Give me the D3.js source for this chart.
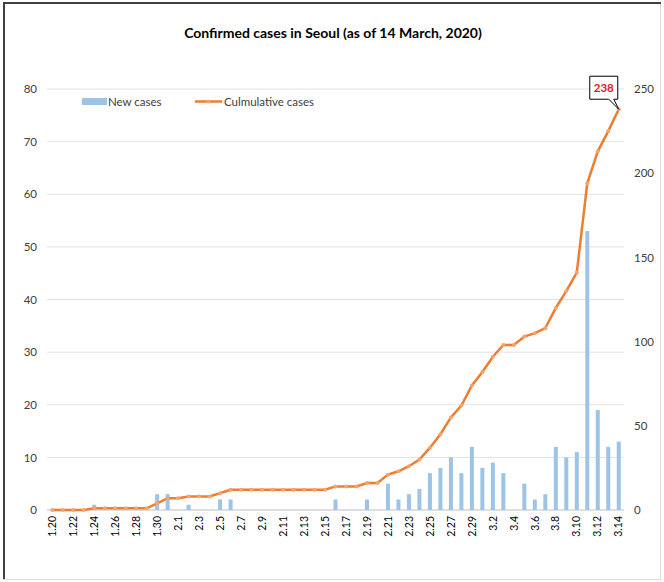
<!DOCTYPE html>
<html lang="en">
<head>
  <meta charset="utf-8">
  <title>Confirmed cases in Seoul</title>
  <script src="https://d3js.org/d3.v7.min.js"></script>
  <style>
    body { margin: 0; background: #fff; }
    text { font-family: Lato, "Open Sans", sans-serif; }
  </style>
</head>
<body>
<div id="chart"></div>
<script>
  // days from 1.20 to 3.14
  var dates = ["1.20","1.21","1.22","1.23","1.24","1.25","1.26","1.27","1.28","1.29","1.30","1.31",
    "2.1","2.2","2.3","2.4","2.5","2.6","2.7","2.8","2.9","2.10","2.11","2.12","2.13","2.14","2.15","2.16",
    "2.17","2.18","2.19","2.20","2.21","2.22","2.23","2.24","2.25","2.26","2.27","2.28","2.29",
    "3.1","3.2","3.3","3.4","3.5","3.6","3.7","3.8","3.9","3.10","3.11","3.12","3.13","3.14"];
  var newCases = [0,0,0,0,1,0,0,0,0,0,3,3,
    0,1,0,0,2,2,0,0,0,0,0,0,0,0,0,2,
    0,0,2,0,5,2,3,4,7,8,10,7,12,
    8,9,7,0,5,2,3,12,10,11,53,19,12,13];
  var cumulative = [0,0,0,0,1,1,1,1,1,1,4,7,
    7,8,8,8,10,12,12,12,12,12,12,12,12,12,12,14,
    14,14,16,16,21,23,26,30,37,45,55,62,74,
    82,91,98,98,103,105,108,120,130,141,194,213,225,238];
  var leftTicks = [0,10,20,30,40,50,60,70,80];
  var rightTicks = [0,50,100,150,200,250];

  var W = 664, H = 582;
  var svg = d3.select("#chart").append("svg").attr("width", W).attr("height", H);

  // frame
  svg.append("rect").attr("x", 3.5).attr("y", 3.5).attr("width", W - 7).attr("height", H - 6)
    .attr("fill", "#fff").attr("stroke", "#d9d9d9");
  svg.append("line").attr("x1", 4).attr("x2", 4).attr("y1", 3).attr("y2", H - 3)
    .attr("stroke", "#404040").attr("stroke-width", 2);
  svg.append("line").attr("x1", 3).attr("x2", W - 3).attr("y1", 3).attr("y2", 3)
    .attr("stroke", "#404040").attr("stroke-width", 2);

  svg.append("text").attr("x", 333).attr("y", 38).attr("text-anchor", "middle")
    .style("font-size", "14px").style("font-weight", "bold").attr("fill", "#000")
    .text("Confirmed cases in Seoul (as of 14 March, 2020)");

  var x = d3.scaleBand().domain(dates).range([47, 624]);
  var yL = d3.scaleLinear().domain([0, 80]).range([510, 89]);
  var yR = d3.scaleLinear().domain([0, 250]).range([510, 89]);

  // gridlines
  svg.append("g").selectAll("line").data(leftTicks).enter().append("line")
    .attr("x1", 47).attr("x2", 624)
    .attr("y1", function(d) { return yL(d); }).attr("y2", function(d) { return yL(d); })
    .attr("stroke", function(d) { return d === 0 ? "#bfbfbf" : "#e3e3e3"; });

  // left axis
  var gl = svg.append("g").attr("transform", "translate(47,0)")
    .call(d3.axisLeft(yL).tickValues(leftTicks).tickSize(0).tickPadding(10));
  gl.select(".domain").remove();
  gl.selectAll("text").style("font-size", "11.5px").attr("fill", "#404040").attr("font-family", "Lato, sans-serif");

  // right axis
  var gr = svg.append("g").attr("transform", "translate(624,0)")
    .call(d3.axisRight(yR).tickValues(rightTicks).tickSize(0).tickPadding(10));
  gr.select(".domain").remove();
  gr.selectAll("text").style("font-size", "11.5px").attr("fill", "#404040").attr("font-family", "Lato, sans-serif");

  // x axis
  var gx = svg.append("g").attr("transform", "translate(0,510)")
    .call(d3.axisBottom(x).tickValues(dates.filter(function(d, i) { return i % 2 === 0; }))
      .tickSize(0).tickPadding(6));
  gx.select(".domain").remove();
  gx.selectAll("text").style("font-size", "10.5px").attr("fill", "#000").attr("font-family", "Lato, sans-serif")
    .attr("text-anchor", "end").attr("transform", "rotate(-90)")
    .attr("x", -6).attr("y", 0).attr("dy", "0.35em");

  // bars
  var bw = 4;
  svg.append("g").selectAll("rect").data(newCases).enter().append("rect")
    .attr("x", function(d, i) { return x(dates[i]) + x.bandwidth() / 2 - bw / 2; })
    .attr("width", bw)
    .attr("y", function(d) { return yL(d); })
    .attr("height", function(d) { return 510 - yL(d); })
    .attr("fill", "#9dc3e6");

  // cumulative line
  var line = d3.line()
    .x(function(d, i) { return x(dates[i]) + x.bandwidth() / 2; })
    .y(function(d) { return yR(d); });
  svg.append("path").datum(cumulative).attr("d", line)
    .attr("fill", "none").attr("stroke", "#ed7d31").attr("stroke-width", 2.5);
  svg.append("g").selectAll("circle").data(cumulative).enter().append("circle")
    .attr("cx", function(d, i) { return x(dates[i]) + x.bandwidth() / 2; })
    .attr("cy", function(d) { return yR(d); })
    .attr("r", 2).attr("fill", "#f4a46e");

  // callout for last value
  var lx = x(dates[dates.length - 1]) + x.bandwidth() / 2;
  var ly = yR(cumulative[cumulative.length - 1]);
  var bx = lx - 29, by = ly - 33;
  svg.append("path")
    .attr("d", "M" + bx + "," + by + "h28v23h-4L" + lx + "," + ly + "L" + (bx + 19) + "," + (by + 23) + "H" + bx + "Z")
    .attr("fill", "#fff").attr("stroke", "#000").attr("stroke-width", 1);
  svg.append("text").attr("x", bx + 14).attr("y", by + 16).attr("text-anchor", "middle")
    .style("font-size", "11.5px").style("font-weight", "bold").attr("fill", "#e0202a")
    .text(cumulative[cumulative.length - 1]);

  // legend
  var lg = svg.append("g");
  lg.append("rect").attr("x", 82).attr("y", 98).attr("width", 25).attr("height", 7).attr("fill", "#9dc3e6");
  lg.append("text").attr("x", 108).attr("y", 105.5).style("font-size", "11.5px").attr("fill", "#404040").text("New cases");
  lg.append("line").attr("x1", 195).attr("x2", 222).attr("y1", 101.5).attr("y2", 101.5)
    .attr("stroke", "#ed7d31").attr("stroke-width", 2.5);
  lg.append("circle").attr("cx", 208.5).attr("cy", 101.5).attr("r", 2).attr("fill", "#f4a46e");
  lg.append("text").attr("x", 224).attr("y", 105.5).style("font-size", "11.5px").attr("fill", "#404040").text("Culmulative cases");
</script>
</body>
</html>
